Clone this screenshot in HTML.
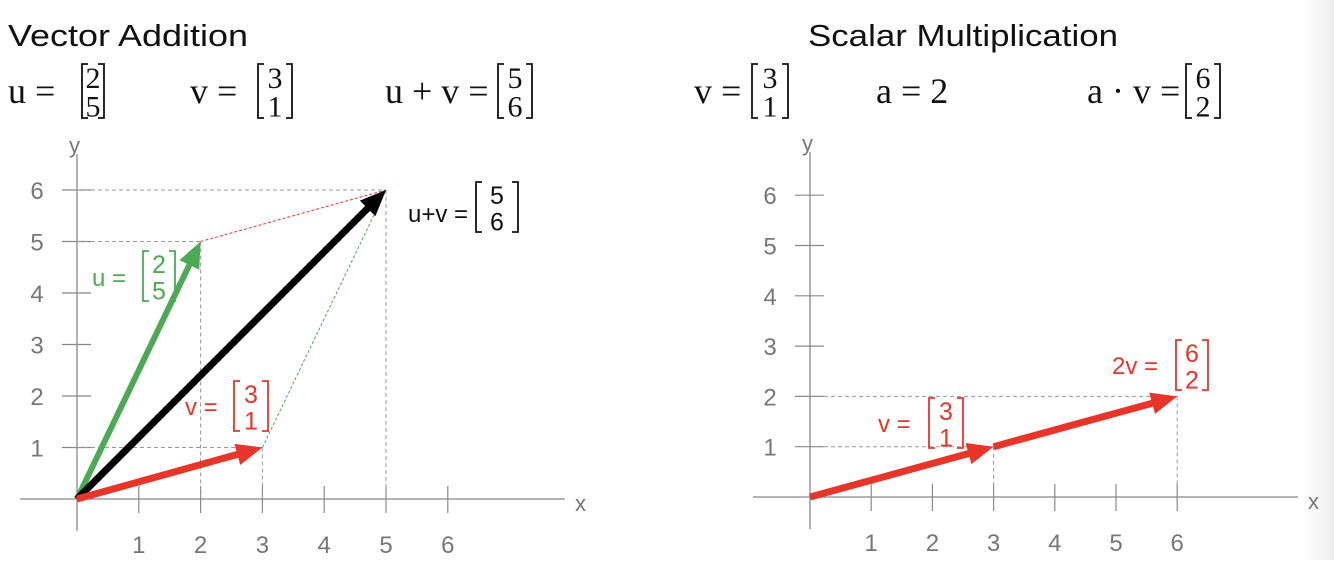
<!DOCTYPE html>
<html><head><meta charset="utf-8"><style>
html,body{margin:0;padding:0;background:#fff;}
body{width:1334px;height:560px;overflow:hidden;}
svg text{font-family:"Liberation Sans",sans-serif;}
.m{font-family:"Liberation Serif",serif;}
</style></head><body>
<svg id="svg" width="1334" height="560" viewBox="0 0 1334 560" xmlns="http://www.w3.org/2000/svg">
<defs>
<linearGradient id="edge" x1="0" x2="1"><stop offset="0" stop-color="#fff"/><stop offset="1" stop-color="#eeeeee"/></linearGradient>
</defs>
<rect x="1300" y="0" width="34" height="560" fill="url(#edge)"/>
<text x="8" y="46" font-size="31" fill="#111" textLength="240" lengthAdjust="spacingAndGlyphs">Vector Addition</text>
<text x="808" y="46" font-size="31" fill="#111" textLength="310" lengthAdjust="spacingAndGlyphs">Scalar Multiplication</text>
<g id="layer"></g>
</svg>
<script>
// data
const uVec = [2, 5];
const vVec = [3, 1];
const sumVec = [5, 6];
const scalarA = 2;
const scaledVec = [6, 2];
const tickValues = [1, 2, 3, 4, 5, 6];

const NS = "http://www.w3.org/2000/svg";
const layer = document.getElementById('layer');
function mk(tag, attrs, parent) {
  const e = document.createElementNS(NS, tag);
  for (const k in attrs) e.setAttribute(k, attrs[k]);
  (parent || layer).appendChild(e);
  return e;
}
const L = {ox: 77, oy: 499, sx: 61.8, sy: 51.5};
const R = {ox: 810, oy: 497, sx: 61.2, sy: 50.3};
function px(ax, v) { return ax.ox + ax.sx * v; }
function py(ax, v) { return ax.oy - ax.sy * v; }

function drawAxes(ax, name) {
  const g = mk('g', {});
  
  
  mk('line', {x1: ax.ox - 57, y1: ax.oy, x2: ax.ox + 488, y2: ax.oy, stroke: '#888', 'stroke-width': 1.3}, g);
  mk('line', {x1: ax.ox, y1: ax.oy - 345, x2: ax.ox, y2: ax.oy + 32, stroke: '#888', 'stroke-width': 1.3}, g);
  const xl = mk('text', {x: ax.ox + 498, y: ax.oy + 12, 'font-size': 22, fill: '#777'}, g);
  xl.textContent = 'x';
  
  
  const yl = mk('text', {x: ax.ox - 8, y: ax.oy - 346, 'font-size': 22, fill: '#777'}, g);
  yl.textContent = 'y';
  
  
  tickValues.forEach(t => {
    mk('line', {x1: px(ax, t), y1: ax.oy - 13, x2: px(ax, t), y2: ax.oy + 14, stroke: '#888', 'stroke-width': 1.2}, g);
    const tx = mk('text', {x: px(ax, t), y: ax.oy + 54, 'font-size': 24, fill: '#777', 'text-anchor': 'middle'}, g);
    tx.textContent = t;
    
    
    mk('line', {x1: ax.ox - 15, y1: py(ax, t), x2: ax.ox + 14, y2: py(ax, t), stroke: '#888', 'stroke-width': 1.2}, g);
    const ty = mk('text', {x: ax.ox - 40, y: py(ax, t) + 9, 'font-size': 24, fill: '#777', 'text-anchor': 'middle'}, g);
    ty.textContent = t;
    
    
  });
}
function guides(ax, vec) {
  const g = mk('g', {fill: 'none', stroke: '#999', 'stroke-width': 1, 'stroke-dasharray': '4,3'});
  
  
  mk('line', {x1: ax.ox, y1: py(ax, vec[1]), x2: px(ax, vec[0]), y2: py(ax, vec[1])}, g);
  mk('line', {x1: px(ax, vec[0]), y1: py(ax, vec[1]), x2: px(ax, vec[0]), y2: ax.oy}, g);
}
function arrow(ax, from, to, color, w, name) {
  const x1 = px(ax, from[0]), y1 = py(ax, from[1]), x2 = px(ax, to[0]), y2 = py(ax, to[1]);
  const dx = x2 - x1, dy = y2 - y1, len = Math.hypot(dx, dy), ux = dx / len, uy = dy / len;
  const hl = 26, hw = 11;
  const bx = x2 - ux * hl, by = y2 - uy * hl;
  const g = mk('g', {});
  
  
  mk('line', {x1: x1, y1: y1, x2: bx + ux * 2, y2: by + uy * 2, stroke: color, 'stroke-width': w}, g);
  mk('polygon', {points: `${x2},${y2} ${bx - uy * hw},${by + ux * hw} ${bx + uy * hw},${by - ux * hw}`, fill: color}, g);
}
function dotted(ax, from, to, color, name) {
  const l = mk('line', {x1: px(ax, from[0]), y1: py(ax, from[1]), x2: px(ax, to[0]), y2: py(ax, to[1]), stroke: color, 'stroke-width': 1, 'stroke-dasharray': '3,2'});
  
  
}
function matrix(x, top, h, w, a, b, color, fs, serif, name) {
  const g = mk('g', {});
  
  
  const bw = 6;
  mk('path', {d: `M${x + bw},${top} H${x} V${top + h} H${x + bw}`, fill: 'none', stroke: color, 'stroke-width': 1.8}, g);
  mk('path', {d: `M${x + w - bw},${top} H${x + w} V${top + h} H${x + w - bw}`, fill: 'none', stroke: color, 'stroke-width': 1.8}, g);
  const t1 = mk('text', {x: x + w / 2, y: top + h * 0.44, 'font-size': fs, fill: color, 'text-anchor': 'middle'}, g);
  t1.textContent = a;
  const t2 = mk('text', {x: x + w / 2, y: top + h * 0.97, 'font-size': fs, fill: color, 'text-anchor': 'middle'}, g);
  t2.textContent = b;
  if (serif) { t1.setAttribute('class', 'm'); t2.setAttribute('class', 'm'); }
}
function label(x, y, s, color, fs, serif, name) {
  const t = mk('text', {x: x, y: y, 'font-size': fs, fill: color});
  t.textContent = s;
  if (serif) t.setAttribute('class', 'm');
  
  
}

// header equations
label(8, 103, 'u =', '#111', 36, true, 'eq-u-label');
matrix(82, 64, 54, 22, uVec[0], uVec[1], '#111', 30, true, 'eq-u-matrix');
label(190, 103, 'v  =', '#111', 36, true, 'eq-v-label');
matrix(258, 64, 54, 34, vVec[0], vVec[1], '#111', 30, true, 'eq-v-matrix');
label(385, 103, 'u + v =', '#111', 36, true, 'eq-sum-label');
matrix(498, 64, 54, 34, sumVec[0], sumVec[1], '#111', 30, true, 'eq-sum-matrix');
label(694, 103, 'v =', '#111', 36, true, 'eq-v2-label');
matrix(752, 64, 54, 36, vVec[0], vVec[1], '#111', 30, true, 'eq-v2-matrix');
label(876, 103, 'a  = ' + scalarA, '#111', 36, true, 'eq-a-label');
label(1087, 103, 'a · v =', '#111', 36, true, 'eq-av-label');
matrix(1186, 64, 54, 34, scaledVec[0], scaledVec[1], '#111', 30, true, 'eq-av-matrix');

// left chart
drawAxes(L, 'left');
guides(L, uVec); guides(L, vVec); guides(L, sumVec);
dotted(L, uVec, sumVec, '#e8352a', 'parallelogram-red-edge');
dotted(L, vVec, sumVec, '#4caa55', 'parallelogram-green-edge');
arrow(L, [0, 0], uVec, '#4caa55', 6, 'vector-u');
arrow(L, [0, 0], sumVec, '#000', 7, 'vector-u-plus-v');
arrow(L, [0, 0], vVec, '#e8352a', 7, 'vector-v');
label(408, 222, 'u+v =', '#111', 24, false, 'sum-label');
matrix(476, 182, 50, 42, sumVec[0], sumVec[1], '#111', 25, false, 'sum-label-matrix');
label(92, 286, 'u =', '#4caa55', 24, false, 'u-label');
matrix(143, 251, 50, 32, uVec[0], uVec[1], '#4caa55', 25, false, 'u-label-matrix');
label(185, 415, 'v =', '#e8352a', 24, false, 'v-label');
matrix(234, 381, 50, 34, vVec[0], vVec[1], '#e8352a', 25, false, 'v-label-matrix');

// right chart
drawAxes(R, 'right');
guides(R, vVec); guides(R, scaledVec);
arrow(R, vVec, scaledVec, '#e8352a', 7, 'vector-2v');
arrow(R, [0, 0], vVec, '#e8352a', 7, 'vector-v-right');
label(878, 432, 'v =', '#e8352a', 24, false, 'v-right-label');
matrix(929, 398, 50, 34, vVec[0], vVec[1], '#e8352a', 25, false, 'v-right-label-matrix');
label(1112, 374, scalarA + 'v =', '#e8352a', 24, false, 'scaled-label');
matrix(1176, 340, 50, 32, scaledVec[0], scaledVec[1], '#e8352a', 25, false, 'scaled-label-matrix');
</script>
</body></html>
